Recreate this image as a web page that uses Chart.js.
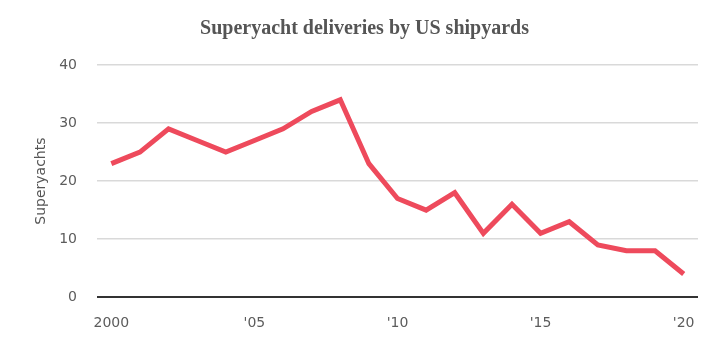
<!DOCTYPE html>
<html>
<head>
<meta charset="utf-8">
<script src="https://cdn.jsdelivr.net/npm/chart.js@4"></script>
<style>
  body { margin: 0; background: #fff; }
  #wrap { width: 722px; height: 348px; }
</style>
</head>
<body>
<div id="wrap"><canvas id="chart" width="722" height="348"></canvas></div>
<script>
const years = ['2000', '2001', '2002', '2003', '2004', '2005', '2006', '2007', '2008', '2009', '2010',
               '2011', '2012', '2013', '2014', '2015', '2016', '2017', '2018', '2019', '2020'];
const deliveries = [23, 25, 29, 27, 25, 27, 29, 32, 34, 23, 17, 15, 18, 11, 16, 11, 13, 9, 8, 8, 4];
const tickLabels = { '2000': '2000', '2005': "'05", '2010': "'10", '2015': "'15", '2020': "'20" };

const ctx = document.getElementById('chart').getContext('2d');
new Chart(ctx, {
    type: 'line',
    data: {
        labels: years,
        datasets: [{
            data: deliveries,
            borderColor: '#ee4a5c',
            borderWidth: 5,
            pointRadius: 0,
            pointHoverRadius: 0,
            tension: 0,
            borderJoinStyle: 'miter'
        }]
    },
    options: {
        responsive: false,
        animation: false,
        layout: { padding: { left: 31, right: 24, top: 4, bottom: 6 } },
        plugins: {
            legend: { display: false },
            tooltip: { enabled: false },
            title: {
                display: true,
                text: 'Superyacht deliveries by US shipyards',
                color: '#555',
                font: { family: 'Liberation Serif', size: 20, weight: 'bold' },
                padding: { top: 13, bottom: 24 }
            }
        },
        scales: {
            x: {
                offset: true,
                grid: { display: false },
                border: { display: false },
                // labels may hang over the plot edges, don't let them shrink it
                afterFit: function (scale) {
                    scale.paddingLeft = 0;
                    scale.paddingRight = 0;
                },
                ticks: {
                    autoSkip: false,
                    maxRotation: 0,
                    padding: 10,
                    color: '#5c5c5c',
                    font: { family: 'DejaVu Sans', size: 14 },
                    callback: function (v) { return tickLabels[years[v]] || ''; }
                }
            },
            y: {
                min: 0,
                max: 40,
                afterFit: function (scale) { scale.width = 66; },
                ticks: {
                    stepSize: 10,
                    padding: 20,
                    color: '#5c5c5c',
                    font: { family: 'DejaVu Sans', size: 14 }
                },
                border: { display: false },
                grid: {
                    drawTicks: false,
                    color: function (c) { return c.tick.value === 0 ? '#333' : '#d9d9d9'; },
                    lineWidth: function (c) { return c.tick.value === 0 ? 2 : 1.5; }
                },
                title: {
                    display: true,
                    text: 'Superyachts',
                    color: '#555',
                    font: { family: 'DejaVu Sans', size: 14 },
                    padding: { top: 2, bottom: 6 }
                }
            }
        }
    }
});
</script>
</body>
</html>
